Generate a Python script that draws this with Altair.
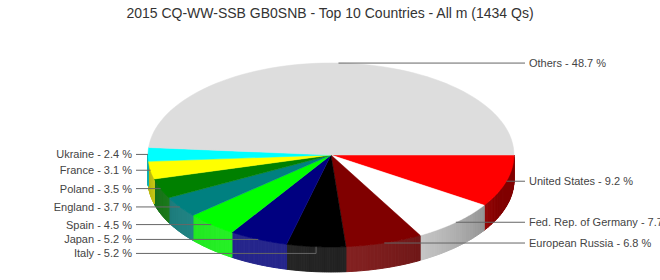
import altair as alt
import pandas as pd

# ---- data ----
names = ["United States", "Fed. Rep. of Germany", "European Russia", "Italy", "Japan",
         "Spain", "England", "Poland", "France", "Ukraine", "Others"]
pcts = [9.2, 7.7, 6.8, 5.2, 5.2, 4.5, 3.7, 3.5, 3.1, 2.4, 48.7]
colors = ["#FF0000", "#FFFFFF", "#800000", "#000000", "#000080", "#00FF00",
          "#008080", "#008000", "#FFFF00", "#00FFFF", "#DDDDDD"]
title = "2015 CQ-WW-SSB GB0SNB - Top 10 Countries - All m (1434 Qs)"

# ---- layout constants (pixels) ----
W, H, TOP = 660, 280, 24
CX, CY, RX, RY, DEPTH = 331, 155, 183, 92, 25
N = 72        # arc resolution per slice
S = 32        # wall strips per slice
GAP = 14      # min label spacing
FONT = "Liberation Sans"

df = pd.DataFrame({
    "name": names, "pct": pcts, "color": colors, "idx": list(range(len(names))),
    "r": [int(c[1:3], 16) for c in colors],
    "g": [int(c[3:5], 16) for c in colors],
    "b": [int(c[5:7], 16) for c in colors],
})

xs = alt.Scale(domain=[0, W], range=[0, W], nice=False, zero=False)
ys = alt.Scale(domain=[TOP, H], range=[0, H - TOP], nice=False, zero=False)

base = (
    alt.Chart(df)
    .transform_window(cum="sum(pct)", sort=[alt.SortField("idx")], frame=[None, 0])
    .transform_joinaggregate(total="sum(pct)")
    .transform_calculate(
        a0="(datum.cum - datum.pct) / datum.total * 2 * PI",
        a1="datum.cum / datum.total * 2 * PI",
    )
)

# side walls (front half only), drawn as shaded strips
def shade(ch):
    return f"round(datum.{ch} * (0.5 + 0.3 * datum.L) + 38 * datum.L)"

walls = (
    base.transform_calculate(w0="max(datum.a0, 0)", w1="min(datum.a1, PI)")
    .transform_filter("datum.w1 > datum.w0")
    .transform_calculate(s=f"sequence(0, {S})")
    .transform_flatten(["s"])
    .transform_calculate(
        t0=f"datum.w0 + (datum.w1 - datum.w0) * datum.s / {S}",
        t1=f"datum.w0 + (datum.w1 - datum.w0) * (datum.s + 1) / {S}",
        k="[0, 1, 2, 3]",
    )
    .transform_flatten(["k"])
    .transform_calculate(
        th="(datum.k == 0 || datum.k == 3) ? datum.t0 : datum.t1",
        dz=f"datum.k >= 2 ? {DEPTH} : 0",
        L="max(0, cos((datum.t0 + datum.t1) / 2 - 113 * PI / 180))",
    )
    .transform_calculate(
        x=f"{CX} + {RX} * cos(datum.th)",
        y=f"{CY} + {RY} * sin(datum.th) + datum.dz",
        wc="'rgb(' + " + shade("r") + " + ',' + " + shade("g") + " + ',' + " + shade("b") + " + ')'",
        key="datum.name + '-' + datum.s",
    )
    .mark_line(filled=True, interpolate="linear-closed", strokeWidth=1)
    .encode(
        x=alt.X("x:Q", scale=xs, axis=None),
        y=alt.Y("y:Q", scale=ys, axis=None),
        order=alt.Order("k:Q"),
        detail="key:N",
        fill=alt.Fill("wc:N", scale=None),
        stroke=alt.Stroke("wc:N", scale=None),
    )
)

# top faces
tops = (
    base.transform_calculate(i=f"sequence(-1, {N + 1})")
    .transform_flatten(["i"])
    .transform_calculate(th=f"datum.a0 + (datum.a1 - datum.a0) * max(datum.i, 0) / {N}")
    .transform_calculate(
        x=f"datum.i < 0 ? {CX} : {CX} + {RX} * cos(datum.th)",
        y=f"datum.i < 0 ? {CY} : {CY} + {RY} * sin(datum.th)",
    )
    .mark_line(filled=True, interpolate="linear-closed", strokeWidth=0.5)
    .encode(
        x=alt.X("x:Q", scale=xs, axis=None),
        y=alt.Y("y:Q", scale=ys, axis=None),
        order=alt.Order("i:Q"),
        detail="name:N",
        fill=alt.Fill("color:N", scale=None),
        stroke=alt.Stroke("color:N", scale=None),
    )
)

# labels with simple collision avoidance
lab = (
    base.transform_calculate(m="(datum.a0 + datum.a1) / 2")
    .transform_calculate(
        ax=f"{CX} + {RX} * cos(datum.m)",
        ay=f"{CY} + {RY} * sin(datum.m)",
        side="cos(datum.m) < 0 ? 'L' : 'R'",
    )
    .transform_window(rk="row_number()", groupby=["side"], sort=[alt.SortField("ay")])
    .transform_calculate(adj=f"datum.ay - {GAP} * datum.rk")
    .transform_window(mx="max(adj)", groupby=["side"], sort=[alt.SortField("ay")], frame=[None, 0])
    .transform_calculate(
        ly=f"datum.mx + {GAP} * datum.rk",
        ex="datum.side == 'L' ? 136 : 525",
        tx="datum.side == 'L' ? 132 : 529",
        label="datum.name + ' - ' + format(datum.pct, '.1f') + ' %'",
    )
)

leaders = (
    lab.transform_calculate(p="[0, 1, 2]")
    .transform_flatten(["p"])
    .transform_calculate(
        x="datum.p <= 1 ? datum.ax : datum.ex",
        y="datum.p == 0 ? datum.ay : datum.ly",
    )
    .mark_line(color="#666666", strokeWidth=1)
    .encode(
        x=alt.X("x:Q", scale=xs, axis=None),
        y=alt.Y("y:Q", scale=ys, axis=None),
        order=alt.Order("p:Q"),
        detail="name:N",
    )
)

def texts(side, align):
    return (
        lab.transform_filter(f"datum.side == '{side}'")
        .mark_text(align=align, baseline="middle", font=FONT, fontSize=11, color="#444444", dy=1)
        .encode(
            x=alt.X("tx:Q", scale=xs, axis=None),
            y=alt.Y("ly:Q", scale=ys, axis=None),
            text="label:N",
        )
    )

chart = (
    alt.layer(walls, tops, leaders, texts("L", "right"), texts("R", "left"))
    .properties(
        width=W,
        height=H - TOP,
        padding={"top": TOP, "left": 0, "right": 0, "bottom": 0},
        autosize=alt.AutoSizeParams(type="none"),
        title=alt.Title(title, font=FONT, fontSize=14, fontWeight="normal",
                        color="#333333", anchor="middle", offset=3),
        background="white",
    )
    .configure_view(stroke=None)
)

chart.save("out.html", embed_options={"renderer": "svg", "actions": False})
